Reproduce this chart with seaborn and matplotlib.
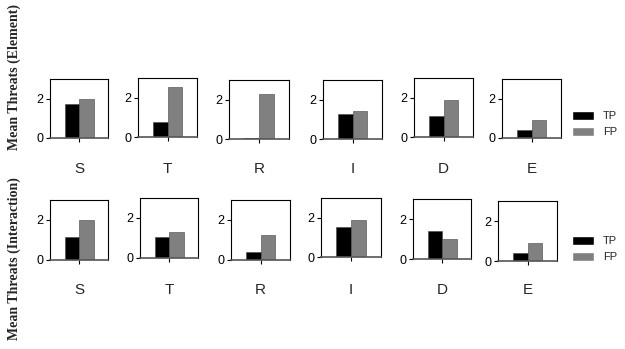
import numpy as np
import pandas as pd
import seaborn as sns
import matplotlib.pyplot as plt
from matplotlib.patches import Patch

categories = ["S", "T", "R", "I", "D", "E"]
element_tp = [1.75, 0.75, 0.05, 1.25, 1.05, 0.40]
element_fp = [2.00, 2.55, 2.30, 1.40, 1.90, 0.90]
interaction_tp = [1.15, 1.05, 0.40, 1.55, 1.40, 0.40]
interaction_fp = [2.00, 1.30, 1.25, 1.90, 1.00, 0.90]
row_labels = ["Mean Threats (Element)", "Mean Threats (Interaction)"]

sns.set_theme(style="white")
plt.rcParams["font.family"] = ["Liberation Sans", "DejaVu Sans"]

W, H = 625, 349
fig = plt.figure(figsize=(W / 100, H / 100), dpi=100)

# pixel boxes (left, top, right, bottom) for each panel
top_boxes = [(50, 79, 108, 138), (138, 78, 197, 137), (229, 80, 289, 139),
             (323, 80, 382, 139), (414, 78, 473, 137), (502, 79, 561, 138)]
bot_boxes = [(50, 200, 108, 260), (140, 198, 198, 258), (231, 200, 290, 260),
             (321, 198, 381, 257), (413, 199, 471, 259), (498, 201, 557, 261)]

palette = {"TP": "#000000", "FP": "#808080"}


def draw_row(boxes, tp, fp, label_y):
    for cat, (l, t, r, b), v_tp, v_fp in zip(categories, boxes, tp, fp):
        ax = fig.add_axes([l / W, 1 - b / H, (r - l) / W, (b - t) / H])
        df = pd.DataFrame({"cat": [cat, cat], "kind": ["TP", "FP"], "val": [v_tp, v_fp]})
        sns.barplot(data=df, x="cat", y="val", hue="kind", palette=palette,
                    width=0.5, ax=ax, legend=False, edgecolor="#444444", linewidth=0.4)
        ax.set_xlim(-0.5, 0.5)
        ax.set_ylim(0, 3)
        ax.set_yticks([0, 2])
        ax.set_xticks([0])
        ax.set_xticklabels([""])
        ax.set_ylabel("")
        ax.set_xlabel("")
        ax.tick_params(axis="both", direction="out", length=3, width=0.8,
                       labelsize=9, colors="black", pad=2, left=True, bottom=True)
        for s in ax.spines.values():
            s.set_visible(True)
            s.set_color("black")
            s.set_linewidth(0.8)
        ax.spines["bottom"].set_color("#555555")
        ax.spines["bottom"].set_linewidth(1.2)
        fig.text((l + r) / 2 / W, 1 - label_y / H, cat, ha="center", va="center",
                 fontsize=11)


draw_row(top_boxes, element_tp, element_fp, 169)
draw_row(bot_boxes, interaction_tp, interaction_fp, 290)

handles = [Patch(facecolor="#000000", label="TP"), Patch(facecolor="#808080", label="FP")]
for y in (124, 249):
    fig.legend(handles=handles, loc="center left", bbox_to_anchor=(566 / W, 1 - y / H),
               frameon=False, fontsize=8, handlelength=2.0, handleheight=0.9,
               labelspacing=0.5, handletextpad=0.8, borderpad=0)

fig.text(14 / W, 1 - 77 / H, row_labels[0], rotation=90, ha="center", va="center",
         fontsize=10, fontweight="bold", family=["Liberation Serif", "DejaVu Serif"])
fig.text(14 / W, 1 - 259 / H, row_labels[1], rotation=90, ha="center", va="center",
         fontsize=10, fontweight="bold", family=["Liberation Serif", "DejaVu Serif"])

fig.savefig("out.png", dpi=100)
